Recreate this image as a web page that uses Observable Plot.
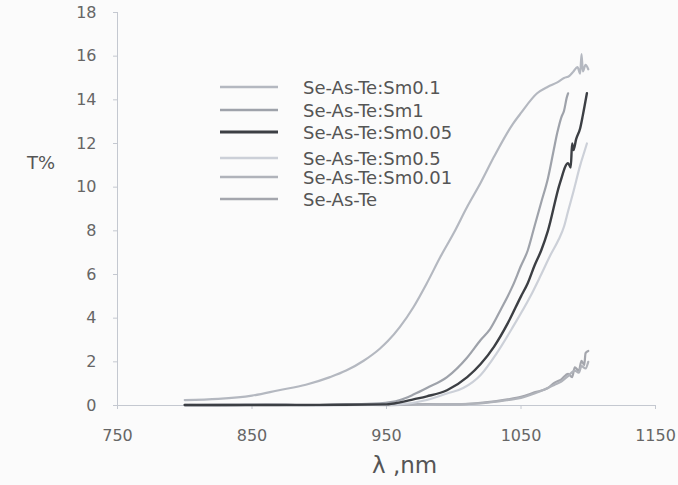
<!DOCTYPE html>
<html><head><meta charset="utf-8">
<script src="https://cdn.jsdelivr.net/npm/d3@7"></script>
<script src="https://cdn.jsdelivr.net/npm/@observablehq/plot@0.6"></script>
<style>
body{margin:0;background:#fbfbfb;}
#wrap{position:relative;width:678px;height:485px;background:#fbfbfb;font-family:"DejaVu Sans",sans-serif;}
.lab{position:absolute;color:#555;white-space:nowrap;}
#legend{position:absolute;left:220px;top:76px;}
.row{position:absolute;left:0;height:22px;display:flex;align-items:center;white-space:nowrap;}
.row span{margin-left:25px;font-size:18px;color:#555;}
</style></head>
<body><div id="wrap"></div>
<script>
// wavelengths (nm) and transmission (%) per sample
const sm01X = [800,825,850,870,890,908,920,933,945,951,960,970,980,990,1000,1010,1020,1030,1044,1050,1062,1070,1077,1082,1086,1089,1092,1094,1095,1096,1098,1100];
const sm01Y = [0.25,0.3,0.45,0.7,0.95,1.3,1.6,2.05,2.6,2.95,3.6,4.5,5.6,6.8,7.9,9.1,10.2,11.4,12.9,13.4,14.3,14.6,14.8,15.0,15.1,15.3,15.5,15.2,16.1,15.3,15.6,15.4];

const sm1X = [800,850,900,945,960,970,980,995,1010,1020,1027,1035,1044,1050,1055,1060,1065,1070,1074,1077,1080,1082,1084,1085];
const sm1Y = [0.02,0.03,0.02,0.1,0.25,0.5,0.8,1.3,2.2,3.0,3.5,4.4,5.5,6.4,7.1,8.2,9.3,10.4,11.6,12.5,13.2,13.5,14.1,14.3];

const sm005X = [800,850,900,950,960,970,980,995,1010,1020,1030,1040,1050,1055,1060,1065,1070,1079,1085,1087,1088,1089,1091,1094,1096,1099];
const sm005Y = [0.02,0.02,0.03,0.05,0.14,0.28,0.42,0.7,1.3,1.9,2.7,3.75,5.0,5.6,6.4,7.1,8.0,10.2,11.1,10.9,12.0,11.7,12.2,12.7,13.3,14.3];

const sm05X = [800,850,900,950,960,980,995,1007,1020,1032,1044,1057,1065,1072,1078,1082,1085,1089,1094,1097,1099];
const sm05Y = [0.02,0.02,0.02,0.03,0.05,0.25,0.55,0.8,1.4,2.4,3.6,5.0,6.0,6.9,7.6,8.2,8.9,9.8,11.0,11.6,12.0];

const sm001X = [800,850,900,950,1000,1020,1040,1050,1060,1070,1075,1080,1085,1090,1093,1095,1098,1100];
const sm001Y = [0.02,0.03,0.02,0.04,0.06,0.1,0.25,0.35,0.55,0.8,0.95,1.1,1.35,1.6,1.5,1.8,1.7,2.0];

const seX = [800,830,860,890,920,950,980,1000,1020,1040,1050,1060,1070,1075,1080,1085,1088,1090,1093,1095,1097,1098,1100];
const seY = [0.03,0.01,0.04,0.02,0.05,0.02,0.06,0.05,0.12,0.28,0.4,0.6,0.8,1.05,1.2,1.45,1.3,1.75,1.6,2.05,1.85,2.4,2.5];

const names = ["Se-As-Te:Sm0.1","Se-As-Te:Sm1","Se-As-Te:Sm0.05","Se-As-Te:Sm0.5","Se-As-Te:Sm0.01","Se-As-Te"];
const colors = ["#b4b8c0","#9ea2aa","#3c3f44","#ccd0d8","#b0b3ba","#a4a6ad"];
const xTicks = [750,850,950,1050,1150];
const yTicks = [0,2,4,6,8,10,12,14,16,18];

const seriesXs = [sm01X, sm1X, sm005X, sm05X, sm001X, seX];
const seriesYs = [sm01Y, sm1Y, sm005Y, sm05Y, sm001Y, seY];
const data = [];
seriesXs.forEach((xs, i) => xs.forEach((x, j) => data.push({s: names[i], x, y: seriesYs[i][j]})));
// draw order: back to front
const order = ["Se-As-Te","Se-As-Te:Sm0.01","Se-As-Te:Sm0.5","Se-As-Te:Sm0.1","Se-As-Te:Sm1","Se-As-Te:Sm0.05"];

const plot = Plot.plot({
  width: 678, height: 485,
  marginLeft: 117, marginRight: 23, marginTop: 12, marginBottom: 80,
  style: {background: "transparent", fontFamily: "DejaVu Sans, sans-serif"},
  x: {domain: [750, 1150]},
  y: {domain: [0, 18]},
  marks: [
    Plot.ruleX([750], {stroke: "#c4c8d0", strokeWidth: 1}),
    Plot.ruleY([0], {stroke: "#c4c8d0", strokeWidth: 1}),
    Plot.axisY({ticks: yTicks, tickSize: 4, tickPadding: 17, stroke: "#c4c8d0", fill: "#666", fontSize: 16, label: null}),
    Plot.axisX({ticks: xTicks, tickFormat: d => String(d), tickSize: 4, tickPadding: 20, stroke: "#c4c8d0", fill: "#666", fontSize: 16, label: null}),
    ...order.map(n => Plot.line(data.filter(d => d.s === n), {x: "x", y: "y", stroke: colors[names.indexOf(n)], strokeWidth: n === "Se-As-Te:Sm0.05" ? 2.4 : 2.2, curve: "monotone-x"}))
  ]
});
const wrap = document.getElementById("wrap");
plot.style.position = "absolute"; plot.style.left = "0"; plot.style.top = "0";
wrap.appendChild(plot);

const t = document.createElement("div");
t.className = "lab"; t.textContent = "T%"; t.style.left = "27px"; t.style.top = "152px"; t.style.fontSize = "18px";
wrap.appendChild(t);
const xl = document.createElement("div");
xl.className = "lab"; xl.textContent = "λ ,nm"; xl.style.left = "372px"; xl.style.top = "452px"; xl.style.fontSize = "23px";
wrap.appendChild(xl);

const leg = document.createElement("div"); leg.id = "legend";
const tops = [0, 23, 45, 71, 90, 112];
names.forEach((n, i) => {
  const r = document.createElement("div"); r.className = "row"; r.style.top = tops[i] + "px";
  r.innerHTML = `<svg width="58" height="6"><line x1="0" x2="58" y1="3" y2="3" stroke="${colors[i]}" stroke-width="${i===2?3:2.5}"/></svg><span>${n}</span>`;
  leg.appendChild(r);
});
wrap.appendChild(leg);
</script></body></html>
